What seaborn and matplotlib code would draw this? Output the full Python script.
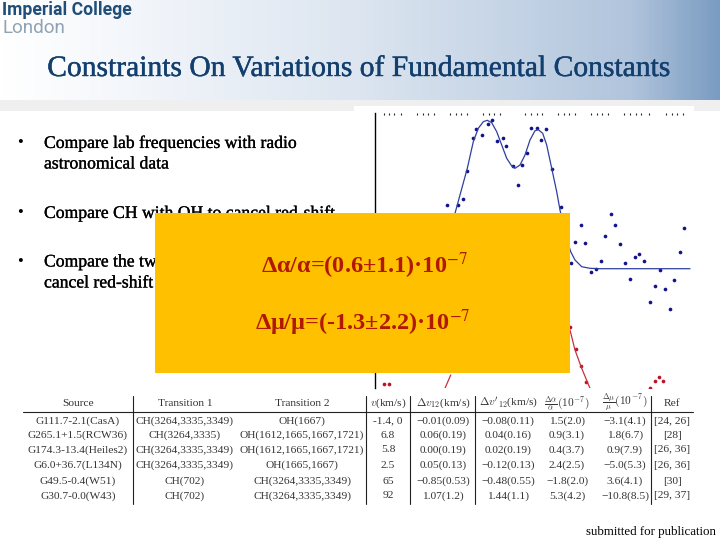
"""
Slide: constraints on variations of fundamental constants.
Spectrum scatter + fit, results table, highlighted result box.
"""

import numpy as np
import pandas as pd
import matplotlib
matplotlib.use("Agg")
import matplotlib.pyplot as plt
import matplotlib.patheffects as pe
from matplotlib.colors import LinearSegmentedColormap
from matplotlib.patches import Rectangle
import seaborn as sns

# ── Data ──────────────────────────────────────────────────────────────────────
blue_x = [447, 457.7, 462.7, 467.3, 473, 476.3, 482.3, 487.7, 492, 497.3, 503, 506.3,
          512.7, 518, 522, 527, 531.3, 536.7, 541.3, 546, 551.7, 561, 571, 575.3,
          581, 585, 591, 596, 601, 605, 611, 615, 620, 625, 630, 635, 639, 644.3,
          650.3, 655, 660, 665, 670, 674.3, 680, 684]
blue_y = [205, 205, 199, 171.3, 138, 129.3, 135, 124, 120, 141.3, 138.3, 146,
          166, 185, 164.7, 152.7, 128, 128, 140, 129, 169, 207.3, 263, 242,
          225, 243, 272, 269, 261.3, 236, 214, 225.3, 244, 263, 279, 257, 254, 261.3,
          302, 286, 270, 289, 309, 280, 252.3, 228]
blue_fit_x = [455, 460, 467.3, 473.3, 478.3, 483.3, 487.3, 491.7, 496.7, 501.7, 506.7,
              511.7, 515, 520, 525, 530, 535, 538.3, 542.7, 546.7, 551.7, 556.7, 560,
              565, 570.7, 575, 581.7, 590, 600, 690]
blue_fit_y = [213.3, 195, 168.3, 141.7, 128.3, 121.7, 120.3, 122.7, 131.7, 145, 158.3,
              166, 168.3, 165, 155, 140, 130.7, 129.7, 133.3, 145, 168.3, 191.7, 210,
              233, 251.7, 260, 266.7, 268.3, 268.7, 268.7]
red_x = [384, 389, 570, 576, 581, 586.3, 650, 655, 659.3, 663]
red_y = [384.3, 384.3, 326.7, 349, 366, 382, 388.3, 381.3, 377, 381]
red_fit_left_x = [445, 450.7]
red_fit_left_y = [388.3, 375]
red_fit_right_x = [570, 575, 581.7, 590]
red_fit_right_y = [330, 350, 368.3, 388.3]
top_ticks = [384, 389, 394.3, 400.7, 417.3, 423.3, 428.3, 434, 450, 455.7, 461, 467.3,
             483.3, 489, 494.3, 500, 525, 530.7, 536.7, 542, 558.3, 564, 569.3, 575,
             591, 596.7, 602.3, 608, 624.3, 630, 635.7, 641.3, 649.3, 666, 671.7, 677.3, 682.7]

columns = ["Source", "Transition 1", "Transition 2", "$v$(km/s)",
           r"$\Delta v_{12}$(km/s)", r"$\Delta v'_{12}$(km/s)",
           r"$\frac{\Delta\alpha}{\alpha}(10^{-7})$", r"$\frac{\Delta\mu}{\mu}(10^{-7})$", "Ref"]
sources = ["G111.7-2.1(CasA)", "G265.1+1.5(RCW36)", "G174.3-13.4(Heiles2)",
           "G6.0+36.7(L134N)", "G49.5-0.4(W51)", "G30.7-0.0(W43)"]
transition_1 = ["CH(3264,3335,3349)", "CH(3264,3335)", "CH(3264,3335,3349)",
                "CH(3264,3335,3349)", "CH(702)", "CH(702)"]
transition_2 = ["OH(1667)", "OH(1612,1665,1667,1721)", "OH(1612,1665,1667,1721)",
                "OH(1665,1667)", "CH(3264,3335,3349)", "CH(3264,3335,3349)"]
velocity = ["-1.4, 0", "6.8", "5.8", "2.5", "65", "92"]
dv12 = ["\u22120.01(0.09)", "0.06(0.19)", "0.00(0.19)", "0.05(0.13)", "\u22120.85(0.53)", "1.07(1.2)"]
dv12p = ["\u22120.08(0.11)", "0.04(0.16)", "0.02(0.19)", "\u22120.12(0.13)", "\u22120.48(0.55)", "1.44(1.1)"]
d_alpha = ["1.5(2.0)", "0.9(3.1)", "0.4(3.7)", "2.4(2.5)", "\u22121.8(2.0)", "5.3(4.2)"]
d_mu = ["\u22123.1(4.1)", "1.8(6.7)", "0.9(7.9)", "\u22125.0(5.3)", "3.6(4.1)", "\u221210.8(8.5)"]
refs = ["[24, 26]", "[28]", "[26, 36]", "[26, 36]", "[30]", "[29, 37]"]

# ── Style ─────────────────────────────────────────────────────────────────────
sns.set_theme(style="white")
plt.rcParams["font.family"] = ["Liberation Serif", "DejaVu Serif"]
W, H = 720, 540
NAVY = "#12128c"
BLUE_LINE = "#2f3f9f"
RED = "#b81428"
RED_LINE = "#c8303c"
TITLE = "#123f6d"
RESULT = "#b01800"
TABLE_INK = "#333333"


def px_axes(fig, zorder):
    """Full-figure axes addressed in picture pixels."""
    ax = fig.add_axes([0, 0, 1, 1], zorder=zorder)
    ax.set_xlim(0, W)
    ax.set_ylim(H, 0)
    ax.axis("off")
    ax.patch.set_alpha(0)
    return ax


def heavier(color, width=0.2):
    return [pe.withStroke(linewidth=width, foreground=color)]


fig = plt.figure(figsize=(7.2, 5.4), dpi=100, facecolor="white")
back = px_axes(fig, 0)

# ── Header band ───────────────────────────────────────────────────────────────
band = LinearSegmentedColormap.from_list("band", [
    (0.0, "#ffffff"), (0.07, "#fbfcfe"), (0.5, "#dce5f0"), (0.72, "#c4d3e5"),
    (0.88, "#b0c4dc"), (1.0, "#7a9cc2")])
back.imshow(np.linspace(0, 1, W).reshape(1, -1), cmap=band, extent=(0, W, 100, 0),
            aspect="auto", zorder=0)
back.set_xlim(0, W)
back.set_ylim(H, 0)
back.add_patch(Rectangle((0, 100), W, 11, color="#efefef", lw=0, zorder=1))
back.add_patch(Rectangle((354, 106), 340, 6, color="white", lw=0, zorder=2))

back.text(2, 10, "Imperial College", family="Roboto", fontsize=12.7, fontweight="bold",
          color="#1f4e79", va="center")
back.text(2, 28, "London", family="Roboto", fontsize=13.6, color="#8fa3b5", va="center")
back.text(360, 69, "Constraints On Variations of Fundamental Constants", fontsize=21.3,
          color=TITLE, ha="center", va="center", path_effects=heavier(TITLE, 0.3))

# ── Bullets ───────────────────────────────────────────────────────────────────
for y in (143, 213, 262):
    back.text(20, y, "\u2022", fontsize=12, color="black", ha="center", va="center")
body = {143: "Compare lab frequencies with radio", 164: "astronomical data",
        213: "Compare CH with OH to cancel red-shift",
        262: "Compare the two CH lines to", 283: "cancel red-shift"}
for y, line in body.items():
    back.text(44, y, line, fontsize=12.7, color="black", va="center",
              path_effects=heavier("black"))

# ── Spectrum ──────────────────────────────────────────────────────────────────
chart = fig.add_axes([375 / W, 1 - 388 / H, 320 / W, 275 / H], zorder=1)
chart.patch.set_alpha(0)
sns.lineplot(data=pd.DataFrame({"x": blue_fit_x, "y": blue_fit_y}), x="x", y="y", ax=chart,
             sort=False, estimator=None, color=BLUE_LINE, lw=0.9)
sns.scatterplot(data=pd.DataFrame({"x": blue_x, "y": blue_y}), x="x", y="y", ax=chart,
                color=NAVY, s=7, linewidth=0)
sns.lineplot(data=pd.DataFrame({"x": red_fit_left_x, "y": red_fit_left_y}), x="x", y="y", ax=chart,
             sort=False, estimator=None, color=RED_LINE, lw=0.9)
sns.lineplot(data=pd.DataFrame({"x": red_fit_right_x, "y": red_fit_right_y}), x="x", y="y", ax=chart,
             sort=False, estimator=None, color=RED_LINE, lw=0.9)
sns.scatterplot(data=pd.DataFrame({"x": red_x, "y": red_y}), x="x", y="y", ax=chart,
                color=RED, s=7, linewidth=0)
chart.set_xlim(375, 695)
chart.set_ylim(388, 113)
chart.set_xlabel("")
chart.set_ylabel("")
chart.set_yticks([])
chart.xaxis.tick_top()
chart.set_xticks(top_ticks)
chart.set_xticklabels([])
chart.tick_params(axis="x", top=True, bottom=False, direction="in", length=1.5, width=0.8, color="#222222", pad=0)
sns.despine(ax=chart, top=True, right=True, bottom=True, left=False)
chart.spines["left"].set_color("black")
chart.spines["left"].set_linewidth(1.0)

# ── Results table ─────────────────────────────────────────────────────────────
front = px_axes(fig, 2)
col_x = [78, 185, 302, 388, 443, 508, 567, 625, 672]
row_y = [421, 435, 450, 465, 481, 496]
table_cols = [sources, transition_1, transition_2, velocity, dv12, dv12p, d_alpha, d_mu, refs]
for cx, name, vals in zip(col_x, columns, table_cols):
    front.text(cx, 403, name, fontsize=8.2, color=TABLE_INK, ha="center", va="center",
               math_fontfamily="cm")
    for ry, val in zip(row_y, vals):
        front.text(cx, ry, val, fontsize=8.2, color=TABLE_INK, ha="center", va="center")
front.plot([23, 693], [412, 412], color="#222222", lw=0.8)
for vx in (133, 366, 410, 475, 651):
    front.plot([vx, vx], [396, 504], color="#222222", lw=0.8)

# ── Highlight box ─────────────────────────────────────────────────────────────
front.add_patch(Rectangle((155, 213), 415, 160, facecolor="#ffc000", edgecolor="none", zorder=5))
front.text(364, 266, "\u0394\u03b1/\u03b1=(0.6\u00b11.1)\u00b710$^{-7}$", fontsize=17.5, fontweight="bold",
           color=RESULT, ha="center", va="center", math_fontfamily="stix", zorder=6)
front.text(363, 323, "\u0394\u03bc/\u03bc=(-1.3\u00b12.2)\u00b710$^{-7}$", fontsize=17.5, fontweight="bold",
           color=RESULT, ha="center", va="center", math_fontfamily="stix", zorder=6)
front.text(716, 532, "submitted for publication", fontsize=9.3, color="black", ha="right", va="center")

fig.savefig("out.png", dpi=100)
plt.close(fig)
